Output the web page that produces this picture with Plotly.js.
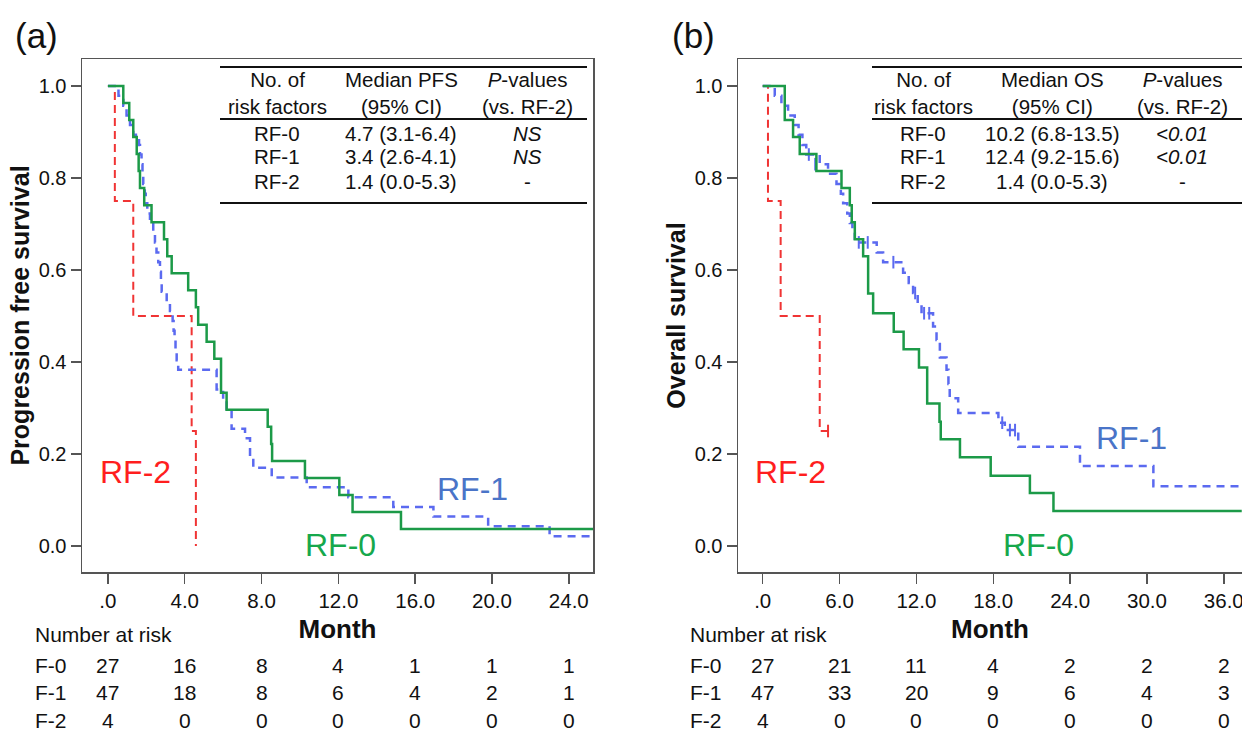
<!DOCTYPE html>
<html>
<head>
<meta charset="utf-8">
<script src="https://cdn.plot.ly/plotly-3.0.1.min.js"></script>
<style>html,body{margin:0;padding:0;background:#fff;}#chart{width:1242px;height:732px;}</style>
</head>
<body>
<div id="chart"></div>
<script>
// ---------- Panel (a): Progression free survival ----------
const pfsRF2Time = [0, 0.36, 1.32, 4.36, 4.58];
const pfsRF2Surv = [1.0, 0.75, 0.50, 0.25, 0.0];

const pfsRF1Time = [0, 0.55, 0.8, 0.97, 1.15, 1.32, 1.62, 1.67, 1.75, 1.8, 1.84, 1.92, 1.97, 2.05, 2.19, 2.36, 2.45, 2.53, 2.62, 2.71, 2.76, 2.8, 3.06, 3.23, 3.37, 3.42, 3.47, 3.52, 3.58, 3.66, 5.66, 6.0, 6.18, 6.44, 7.14, 7.4, 7.57, 8.53, 10.35, 12.52, 14.86, 16.95, 19.8, 23.0, 25.3];
const pfsRF1Surv = [1.0, 0.979, 0.957, 0.936, 0.915, 0.894, 0.872, 0.851, 0.830, 0.809, 0.787, 0.766, 0.745, 0.723, 0.702, 0.681, 0.660, 0.638, 0.617, 0.596, 0.574, 0.553, 0.532, 0.511, 0.489, 0.468, 0.447, 0.426, 0.404, 0.383, 0.340, 0.319, 0.298, 0.255, 0.234, 0.191, 0.170, 0.149, 0.128, 0.106, 0.085, 0.064, 0.043, 0.021, 0.021];

const pfsRF0Time = [0, 0.8, 1.11, 1.32, 1.5, 1.6, 1.67, 1.89, 2.27, 2.92, 3.09, 3.32, 4.18, 4.58, 4.7, 5.14, 5.54, 5.89, 6.18, 8.32, 8.5, 8.55, 10.26, 12.05, 12.74, 15.26, 25.3];
const pfsRF0Surv = [1.0, 0.963, 0.926, 0.889, 0.852, 0.815, 0.778, 0.741, 0.704, 0.667, 0.630, 0.593, 0.556, 0.519, 0.481, 0.444, 0.407, 0.333, 0.296, 0.259, 0.222, 0.185, 0.148, 0.111, 0.074, 0.037, 0.037];

const pfsTickVals = [0, 4, 8, 12, 16, 20, 24];
const pfsTickText = ['.0', '4.0', '8.0', '12.0', '16.0', '20.0', '24.0'];
const pfsRiskF0 = [27, 16, 8, 4, 1, 1, 1];
const pfsRiskF1 = [47, 18, 8, 6, 4, 2, 1];
const pfsRiskF2 = [4, 0, 0, 0, 0, 0, 0];

// ---------- Panel (b): Overall survival ----------
const osRF2Time = [0, 0.41, 1.4, 4.45, 5.1];
const osRF2Surv = [1.0, 0.75, 0.50, 0.25, 0.25];
const osRF2CensorTime = [5.1];
const osRF2CensorSurv = [0.25];

const osRF1Time = [0, 0.94, 1.46, 1.98, 2.5, 2.8, 3.1, 3.4, 4.45, 5.1, 5.76, 6.1, 6.28, 6.6, 6.8, 7.0, 7.19, 8.9, 9.4, 10.96, 11.4, 11.74, 12.1, 12.4, 13.3, 13.57, 13.83, 14.35, 14.5, 14.6, 15.26, 18.4, 18.9, 19.95, 24.77, 30.5, 37.4];
const osRF1Surv = [1.0, 0.979, 0.957, 0.936, 0.915, 0.894, 0.872, 0.851, 0.830, 0.809, 0.787, 0.766, 0.745, 0.723, 0.702, 0.681, 0.660, 0.638, 0.617, 0.594, 0.572, 0.550, 0.528, 0.506, 0.477, 0.448, 0.410, 0.383, 0.352, 0.321, 0.289, 0.268, 0.252, 0.216, 0.174, 0.130, 0.130];
const osRF1CensorTime = [3.6, 4.1, 7.5, 8.2, 10.2, 11.9, 12.6, 13.0, 18.7, 19.3, 19.7];
const osRF1CensorSurv = [0.851, 0.830, 0.660, 0.660, 0.617, 0.550, 0.506, 0.506, 0.268, 0.252, 0.252];

const osRF0Time = [0, 1.72, 2.37, 2.89, 4.19, 6.15, 6.8, 6.95, 7.19, 7.84, 8.23, 8.62, 10.23, 11.0, 12.2, 12.84, 13.8, 13.9, 15.4, 17.8, 20.86, 22.7, 37.4];
const osRF0Surv = [1.0, 0.926, 0.889, 0.852, 0.815, 0.778, 0.741, 0.704, 0.667, 0.630, 0.549, 0.506, 0.466, 0.428, 0.388, 0.310, 0.270, 0.232, 0.193, 0.153, 0.115, 0.076, 0.076];

const osTickVals = [0, 6, 12, 18, 24, 30, 36];
const osTickText = ['.0', '6.0', '12.0', '18.0', '24.0', '30.0', '36.0'];
const osRiskF0 = [27, 21, 11, 4, 2, 2, 2];
const osRiskF1 = [47, 33, 20, 9, 6, 4, 3];
const osRiskF2 = [4, 0, 0, 0, 0, 0, 0];

const yTickVals = [0, 0.2, 0.4, 0.6, 0.8, 1.0];
const riskRowLabels = ['F-0', 'F-1', 'F-2'];

// ---------- Summary tables ----------
const tableHeaderA = ['No. of<br>risk factors', 'Median PFS<br>(95% CI)', '<i>P</i>-values<br>(vs. RF-2)'];
const tableHeaderB = ['No. of<br>risk factors', 'Median OS<br>(95% CI)', '<i>P</i>-values<br>(vs. RF-2)'];
const tableGroups = ['RF-0', 'RF-1', 'RF-2'];
const tableMedianA = ['4.7 (3.1-6.4)', '3.4 (2.6-4.1)', '1.4 (0.0-5.3)'];
const tablePA = ['<i>NS</i>', '<i>NS</i>', '-'];
const tableMedianB = ['10.2 (6.8-13.5)', '12.4 (9.2-15.6)', '1.4 (0.0-5.3)'];
const tablePB = ['<i>&lt;0.01</i>', '<i>&lt;0.01</i>', '-'];

// ---------- styles ----------
const W = 1242, H = 732;
const px = v => v / W;
const py = v => 1 - v / H;
const FONT = 'Liberation Sans, Arial, Helvetica, sans-serif';
const RED = '#f03434', BLUE = '#5b6af0', GREEN = '#1c9a48';
const RED_T = '#ff1e1e', BLUE_T = '#4a74c8', GREEN_T = '#16a84c';
const AXC = '#555555';
const TXT = '#111111';

function step(x, y, color, dash, width, xa, ya) {
  return {x: x, y: y, type: 'scatter', mode: 'lines', line: {shape: 'hv', color: color, dash: dash, width: width},
          xaxis: xa, yaxis: ya, hoverinfo: 'skip', showlegend: false};
}
function censor(x, y, color, xa, ya) {
  return {x: x, y: y, type: 'scatter', mode: 'markers', xaxis: xa, yaxis: ya, showlegend: false, hoverinfo: 'skip',
          marker: {symbol: 'line-ns', size: 9, line: {color: color, width: 2}}};
}

const traces = [
  step(pfsRF2Time, pfsRF2Surv, RED, '8px,5px', 2, 'x', 'y'),
  step(pfsRF1Time, pfsRF1Surv, BLUE, '8px,6px', 2.5, 'x', 'y'),
  step(pfsRF0Time, pfsRF0Surv, GREEN, 'solid', 2.5, 'x', 'y'),
  step(osRF2Time, osRF2Surv, RED, '8px,5px', 2, 'x2', 'y2'),
  censor(osRF2CensorTime, osRF2CensorSurv, RED, 'x2', 'y2'),
  step(osRF1Time, osRF1Surv, BLUE, '8px,6px', 2.5, 'x2', 'y2'),
  censor(osRF1CensorTime, osRF1CensorSurv, BLUE, 'x2', 'y2'),
  step(osRF0Time, osRF0Surv, GREEN, 'solid', 2.5, 'x2', 'y2')
];

const yDom = [py(572), py(59)];
function xAxis(dom, range, tv, tt, anchor, mirror) {
  return {domain: dom, range: range, tickvals: tv, ticktext: tt, anchor: anchor,
          ticks: 'outside', ticklen: 10, tickwidth: 1.5, tickcolor: AXC,
          showline: true, linecolor: AXC, linewidth: 1.5, mirror: mirror,
          showgrid: false, zeroline: false, fixedrange: true, ticklabeloverflow: 'allow',
          tickfont: {family: FONT, size: 20.5, color: TXT},
          title: {text: '<b>Month</b>', font: {family: FONT, size: 26, color: TXT}, standoff: 8}};
}
function yAxis(anchor, title, mirror) {
  return {domain: yDom, range: [-0.0565, 1.0587], tickvals: yTickVals, tickformat: '.1f', anchor: anchor,
          ticks: 'outside', ticklen: 10, tickwidth: 1.5, tickcolor: AXC,
          showline: true, linecolor: AXC, linewidth: 1.5, mirror: mirror,
          showgrid: false, zeroline: false, fixedrange: true,
          tickfont: {family: FONT, size: 20, color: TXT},
          title: {text: '<b>' + title + '</b>', font: {family: FONT, size: 25, color: TXT}, standoff: 2}};
}

const annotations = [];
const shapes = [];
function txt(x, y, text, opts) {
  annotations.push(Object.assign({x: x, y: y, xref: 'paper', yref: 'paper', text: text, showarrow: false,
    xanchor: 'center', yanchor: 'middle', font: {family: FONT, size: 21, color: TXT}}, opts || {}));
}

// panel letters
txt(px(36), py(35), '(a)', {font: {family: FONT, size: 35, color: TXT}});
txt(px(693), py(35), '(b)', {font: {family: FONT, size: 35, color: TXT}});

// curve labels
const LBL = 32;
txt(px(135), py(472), 'RF-2', {font: {family: FONT, size: LBL, color: RED_T}});
txt(px(472), py(489), 'RF-1', {font: {family: FONT, size: LBL, color: BLUE_T}});
txt(px(340), py(545), 'RF-0', {font: {family: FONT, size: LBL, color: GREEN_T}});
txt(px(790), py(472), 'RF-2', {font: {family: FONT, size: LBL, color: RED_T}});
txt(px(1131), py(438), 'RF-1', {font: {family: FONT, size: LBL, color: BLUE_T}});
txt(px(1038), py(545), 'RF-0', {font: {family: FONT, size: LBL, color: GREEN_T}});

// summary tables
const TF = 20.5;
function table(x0, x1, cols, header, med, pv) {
  [67, 119, 203].forEach(yy => shapes.push({type: 'line', xref: 'paper', yref: 'paper',
     x0: px(x0), x1: px(x1), y0: py(yy), y1: py(yy), line: {color: TXT, width: 2}}));
  header.forEach((h, i) => txt(px(cols[i]), py(93), h, {font: {family: FONT, size: TF, color: TXT}}));
  tableGroups.forEach((g, r) => {
    const yy = py(133 + r * 24);
    txt(px(cols[0]), yy, g, {font: {family: FONT, size: TF, color: TXT}});
    txt(px(cols[1]), yy, med[r], {font: {family: FONT, size: TF, color: TXT}});
    txt(px(cols[2]), yy, pv[r], {font: {family: FONT, size: TF, color: TXT}});
  });
}
table(220, 587, [277, 401, 527], tableHeaderA, tableMedianA, tablePA);
table(872, 1242, [923, 1052, 1182], tableHeaderB, tableMedianB, tablePB);

// number at risk
function riskTable(xLabel, xref, tv, rows) {
  txt(px(xLabel), py(634), 'Number at risk', {xanchor: 'left'});
  rows.forEach((row, r) => {
    const yy = py(665 + r * 27.5);
    txt(px(xLabel), yy, riskRowLabels[r], {xanchor: 'left'});
    row.forEach((v, i) => annotations.push({x: tv[i], y: yy, xref: xref, yref: 'paper', text: String(v),
      showarrow: false, xanchor: 'center', yanchor: 'middle', font: {family: FONT, size: 21, color: TXT}}));
  });
}
riskTable(33, 'x', pfsTickVals, [pfsRiskF0, pfsRiskF1, pfsRiskF2]);
riskTable(688, 'x2', osTickVals, [osRiskF0, osRiskF1, osRiskF2]);

const layout = {
  width: W, height: H, margin: {l: 0, r: 0, t: 0, b: 0},
  paper_bgcolor: '#fff', plot_bgcolor: '#fff', showlegend: false,
  font: {family: FONT, color: TXT},
  xaxis: xAxis([px(82), px(593)], [-1.35, 25.26], pfsTickVals, pfsTickText, 'y', true),
  yaxis: yAxis('x', 'Progression free survival', true),
  xaxis2: xAxis([px(738), 1], [-1.93, 37.42], osTickVals, osTickText, 'y2', true),
  yaxis2: yAxis('x2', 'Overall survival', false),
  annotations: annotations, shapes: shapes
};

Plotly.newPlot('chart', traces, layout, {displayModeBar: false, staticPlot: true});
</script>
</body>
</html>
